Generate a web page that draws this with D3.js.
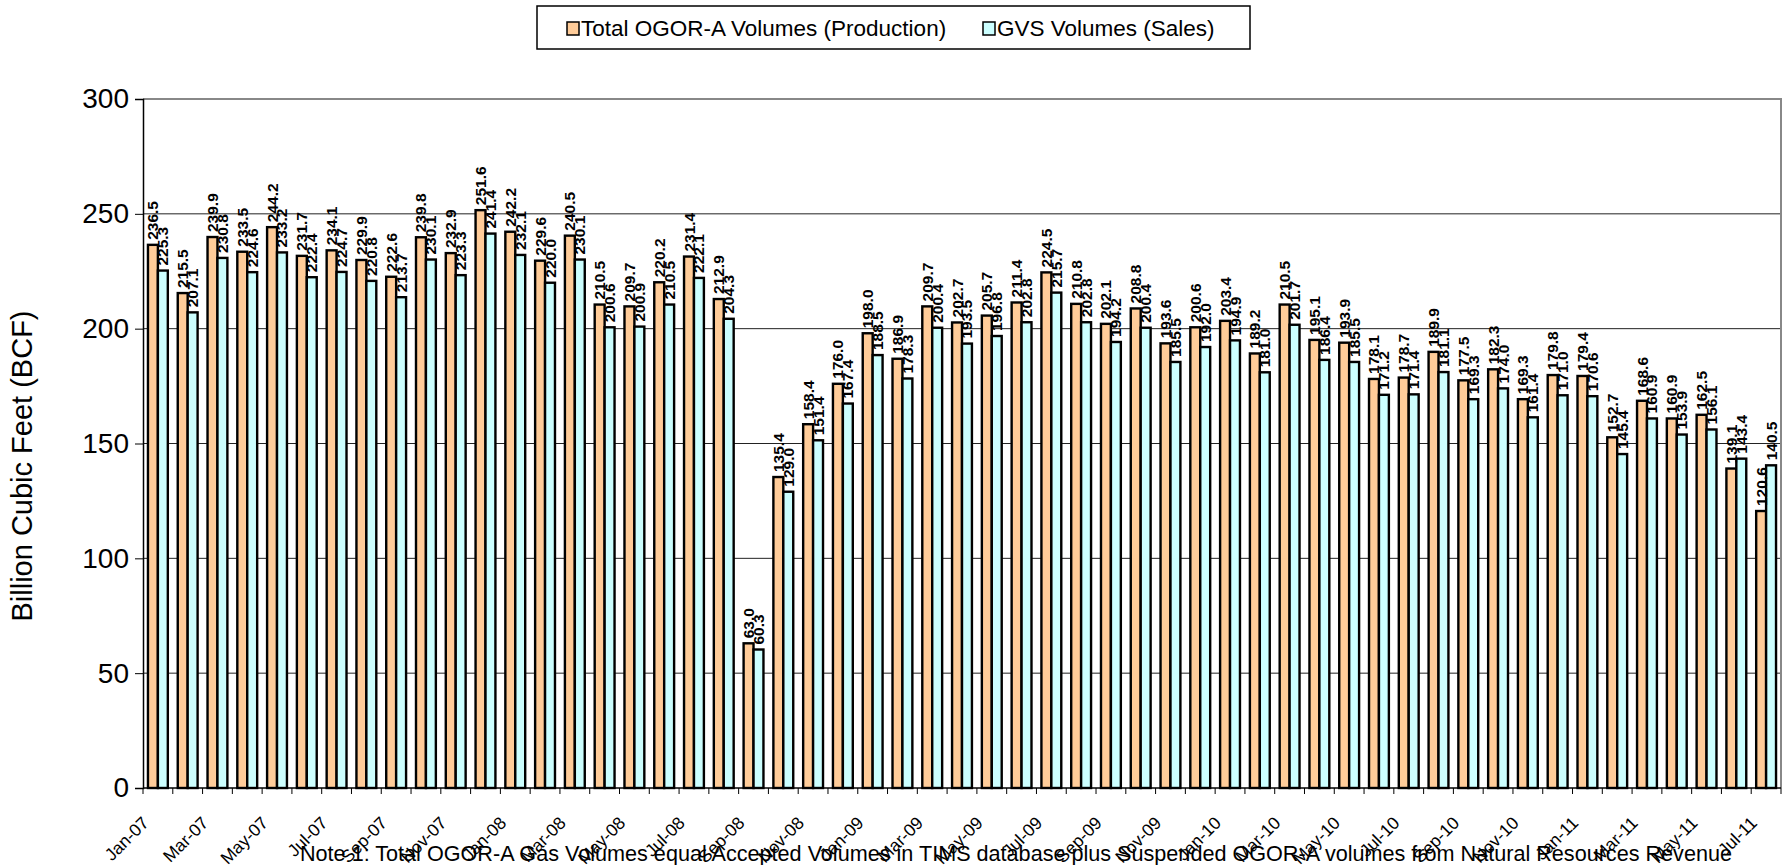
<!DOCTYPE html>
<html>
<head>
<meta charset="utf-8">
<script src="https://cdn.jsdelivr.net/npm/d3@7"></script>
<style>
  body { margin: 0; background: #fff; }
  svg { display: block; font-family: 'Liberation Sans', Arial, sans-serif; }
</style>
</head>
<body>
<div id="chart"></div>
<script>
'use strict';

var months = [
  'Jan-07', 'Feb-07', 'Mar-07', 'Apr-07', 'May-07', 'Jun-07', 'Jul-07', 'Aug-07', 'Sep-07', 'Oct-07', 'Nov-07', 'Dec-07',
  'Jan-08', 'Feb-08', 'Mar-08', 'Apr-08', 'May-08', 'Jun-08', 'Jul-08', 'Aug-08', 'Sep-08', 'Oct-08', 'Nov-08', 'Dec-08',
  'Jan-09', 'Feb-09', 'Mar-09', 'Apr-09', 'May-09', 'Jun-09', 'Jul-09', 'Aug-09', 'Sep-09', 'Oct-09', 'Nov-09', 'Dec-09',
  'Jan-10', 'Feb-10', 'Mar-10', 'Apr-10', 'May-10', 'Jun-10', 'Jul-10', 'Aug-10', 'Sep-10', 'Oct-10', 'Nov-10', 'Dec-10',
  'Jan-11', 'Feb-11', 'Mar-11', 'Apr-11', 'May-11', 'Jun-11', 'Jul-11'
];

var production = [
  236.5, 215.5, 239.9, 233.5, 244.2, 231.7, 234.1, 229.9, 222.6, 239.8, 232.9, 251.6,
  242.2, 229.6, 240.5, 210.5, 209.7, 220.2, 231.4, 212.9, 63.0, 135.4, 158.4, 176.0,
  198.0, 186.9, 209.7, 202.7, 205.7, 211.4, 224.5, 210.8, 202.1, 208.8, 193.6, 200.6,
  203.4, 189.2, 210.5, 195.1, 193.9, 178.1, 178.7, 189.9, 177.5, 182.3, 169.3, 179.8,
  179.4, 152.7, 168.6, 160.9, 162.5, 139.1, 120.6
];

var sales = [
  225.3, 207.1, 230.8, 224.6, 233.2, 222.4, 224.7, 220.8, 213.7, 230.1, 223.3, 241.4,
  232.1, 220.0, 230.1, 200.6, 200.9, 210.5, 222.1, 204.3, 60.3, 129.0, 151.4, 167.4,
  188.5, 178.3, 200.4, 193.5, 196.8, 202.8, 215.7, 202.8, 194.2, 200.4, 185.5, 192.0,
  194.9, 181.0, 201.7, 186.4, 185.5, 171.2, 171.4, 181.1, 169.3, 174.0, 161.4, 171.0,
  170.6, 145.4, 160.9, 153.9, 156.1, 143.4, 140.5
];

var yTicks = [0, 50, 100, 150, 200, 250, 300];

var seriesNames = ['Total OGOR-A Volumes (Production)', 'GVS Volumes (Sales)'];
var seriesColors = ['#FFCC99', '#CCFFFF'];

var noteText = 'Note 1: Total OGOR-A Gas Volumes equal Accepted Volumes in TIMS database plus Suspended OGOR-A volumes from Natural Resources Revenue';

var width = 1790, height = 865;
var plot = { left: 143, right: 1781, top: 99, bottom: 788 };

var svg = d3.select('#chart').append('svg')
  .attr('width', width)
  .attr('height', height);

var x = d3.scaleBand()
  .domain(months)
  .range([plot.left, plot.right])
  .padding(0);

var bw = x.bandwidth();

var x1 = d3.scaleBand()
  .domain([0, 1])
  .range([bw / 6, bw * 5 / 6])
  .padding(0);

var y = d3.scaleLinear()
  .domain([0, 300])
  .range([plot.bottom, plot.top]);

// gridlines
svg.append('g')
  .selectAll('line')
  .data(yTicks.filter(function (d) { return d > 0 && d < 300; }))
  .enter()
  .append('line')
  .attr('x1', plot.left)
  .attr('x2', plot.right)
  .attr('y1', function (d) { return y(d); })
  .attr('y2', function (d) { return y(d); })
  .attr('stroke', '#222')
  .attr('stroke-width', 1);

// plot frame (top + right, gray)
svg.append('path')
  .attr('d', 'M' + plot.left + ',' + y(300) + 'H' + plot.right + 'V' + plot.bottom)
  .attr('fill', 'none')
  .attr('stroke', '#888')
  .attr('stroke-width', 2);

var rows = months.map(function (m, i) {
  return { month: m, i: i, values: [production[i], sales[i]] };
});

var groups = svg.append('g')
  .selectAll('g.month')
  .data(rows)
  .enter()
  .append('g')
  .attr('class', 'month')
  .attr('transform', function (d) { return 'translate(' + x(d.month) + ',0)'; });

groups.selectAll('rect')
  .data(function (d) { return d.values; })
  .enter()
  .append('rect')
  .attr('x', function (d, j) { return x1(j); })
  .attr('width', x1.bandwidth())
  .attr('y', function (d) { return y(d); })
  .attr('height', function (d) { return y(0) - y(d); })
  .attr('fill', function (d, j) { return seriesColors[j]; })
  .attr('stroke', '#000')
  .attr('stroke-width', 2.4);

groups.selectAll('text')
  .data(function (d) { return d.values; })
  .enter()
  .append('text')
  .attr('transform', function (d, j) {
    return 'translate(' + (x1(j) + x1.bandwidth() / 2 + 5.5) + ',' + (y(d) - 5) + ') rotate(-90)';
  })
  .attr('font-size', 15.5)
  .attr('font-weight', 'bold')
  .attr('fill', '#000')
  .text(function (d) { return d.toFixed(1); });

// y axis
var yAxis = d3.axisLeft(y)
  .tickValues(yTicks)
  .tickSize(8)
  .tickPadding(6)
  .tickFormat(d3.format('d'));

svg.append('g')
  .attr('transform', 'translate(' + plot.left + ',0)')
  .call(yAxis)
  .call(function (g) {
    g.select('.domain').attr('stroke', '#000').attr('stroke-width', 1.5);
    g.selectAll('.tick line').attr('stroke', '#000');
    g.selectAll('.tick text')
      .attr('font-size', 28)
      .attr('font-family', "'Liberation Sans', Arial, sans-serif")
      .attr('fill', '#000');
  });

// x axis baseline and ticks at category boundaries
svg.append('line')
  .attr('x1', plot.left)
  .attr('x2', plot.right)
  .attr('y1', y(0))
  .attr('y2', y(0))
  .attr('stroke', '#000')
  .attr('stroke-width', 1.5);

svg.append('g')
  .selectAll('line')
  .data(months.concat(['end']))
  .enter()
  .append('line')
  .attr('x1', function (d) { return d === 'end' ? plot.right : x(d); })
  .attr('x2', function (d) { return d === 'end' ? plot.right : x(d); })
  .attr('y1', y(0))
  .attr('y2', y(0) + 6)
  .attr('stroke', '#000');

svg.append('g')
  .selectAll('text')
  .data(months.filter(function (m, i) { return i % 2 === 0; }))
  .enter()
  .append('text')
  .attr('transform', function (d) {
    return 'translate(' + (x(d) + bw / 2 - 8) + ',' + (y(0) + 36) + ') rotate(-45)';
  })
  .attr('text-anchor', 'end')
  .attr('font-size', 17.5)
  .attr('fill', '#000')
  .text(function (d) { return d; });

// y axis title
svg.append('text')
  .attr('transform', 'translate(32,' + 466 + ') rotate(-90)')
  .attr('text-anchor', 'middle')
  .attr('font-size', 29)
  .attr('fill', '#000')
  .text('Billion Cubic Feet (BCF)');

// note under the chart
svg.append('text')
  .attr('x', 300)
  .attr('y', 861)
  .attr('font-size', 22)
  .attr('fill', '#000')
  .attr('textLength', 1432)
  .attr('lengthAdjust', 'spacingAndGlyphs')
  .text(noteText);

// legend
var legend = svg.append('g');

legend.append('rect')
  .attr('x', 537)
  .attr('y', 6)
  .attr('width', 713)
  .attr('height', 43)
  .attr('fill', '#fff')
  .attr('stroke', '#000')
  .attr('stroke-width', 1.5);

var legendX = [567, 983];

var items = legend.selectAll('g.item')
  .data(seriesNames)
  .enter()
  .append('g')
  .attr('class', 'item')
  .attr('transform', function (d, i) { return 'translate(' + legendX[i] + ',22)'; });

items.append('rect')
  .attr('width', 12)
  .attr('height', 13)
  .attr('fill', function (d, i) { return seriesColors[i]; })
  .attr('stroke', '#000')
  .attr('stroke-width', 1.5);

items.append('text')
  .attr('x', 14)
  .attr('y', 14)
  .attr('font-size', 22.5)
  .attr('fill', '#000')
  .text(function (d) { return d; });
</script>
</body>
</html>
